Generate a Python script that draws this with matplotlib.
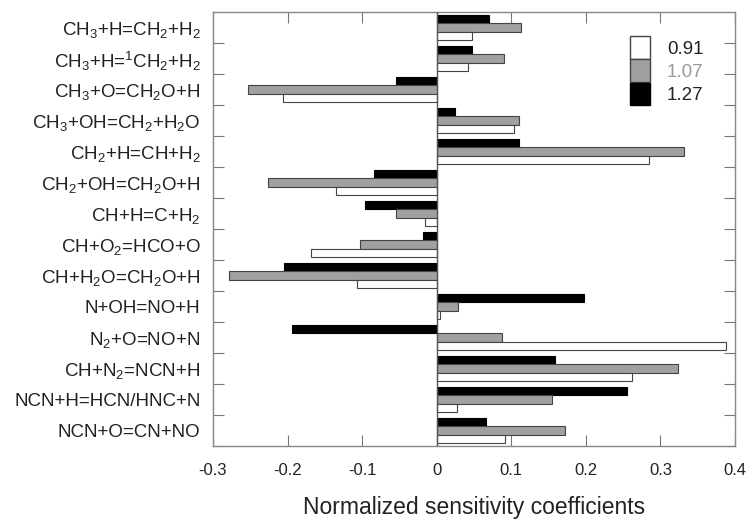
import matplotlib
matplotlib.use("Agg")
import matplotlib.pyplot as plt
import numpy as np
from matplotlib.patches import Patch

plt.rcParams['font.family'] = ['Liberation Sans', 'DejaVu Sans']
plt.rcParams['mathtext.fontset'] = 'custom'
plt.rcParams['mathtext.rm'] = 'Liberation Sans'
plt.rcParams['mathtext.it'] = 'Liberation Sans'

reactions = [
    r"CH$_3$+H=CH$_2$+H$_2$",
    r"CH$_3$+H=$^1$CH$_2$+H$_2$",
    r"CH$_3$+O=CH$_2$O+H",
    r"CH$_3$+OH=CH$_2$+H$_2$O",
    r"CH$_2$+H=CH+H$_2$",
    r"CH$_2$+OH=CH$_2$O+H",
    r"CH+H=C+H$_2$",
    r"CH+O$_2$=HCO+O",
    r"CH+H$_2$O=CH$_2$O+H",
    r"N+OH=NO+H",
    r"N$_2$+O=NO+N",
    r"CH+N$_2$=NCN+H",
    r"NCN+H=HCN/HNC+N",
    r"NCN+O=CN+NO",
]
series_labels = ["0.91", "1.07", "1.27"]
vals_091 = [0.047, 0.042, -0.206, 0.104, 0.284, -0.135, -0.016, -0.168, -0.107, 0.004, 0.388, 0.262, 0.027, 0.092]
vals_107 = [0.113, 0.090, -0.253, 0.110, 0.332, -0.226, -0.054, -0.103, -0.278, 0.028, 0.088, 0.324, 0.155, 0.172]
vals_127 = [0.070, 0.047, -0.054, 0.025, 0.110, -0.084, -0.096, -0.019, -0.205, 0.197, -0.194, 0.159, 0.255, 0.066]

fig = plt.figure(figsize=(7.47, 5.20), dpi=100)
ax = fig.add_axes([0.2851, 0.1423, 0.984 - 0.2851, 0.9769 - 0.1423])

y = np.arange(len(reactions))
h = 0.27
edge = '#444444'
ax.barh(y - h, vals_127, height=h, color='black', edgecolor='black', linewidth=0.8, zorder=3)
ax.barh(y, vals_107, height=h, color='#a0a0a0', edgecolor=edge, linewidth=0.8, zorder=3)
ax.barh(y + h, vals_091, height=h, color='white', edgecolor=edge, linewidth=0.8, zorder=3)
ax.axvline(0, color='#555555', linewidth=1.0, zorder=4)

ax.set_xlim(-0.3, 0.4)
ax.set_ylim(len(reactions) - 0.5, -0.5)
ax.set_xticks([-0.3, -0.2, -0.1, 0, 0.1, 0.2, 0.3, 0.4])
ax.set_xticklabels(["-0.3", "-0.2", "-0.1", "0", "0.1", "0.2", "0.3", "0.4"])
ax.set_yticks(y + 0.5, minor=False)
ax.set_yticklabels([])
ax.set_yticks(y, minor=True)
ax.set_yticklabels(reactions, minor=True)
ax.tick_params(axis='y', which='minor', length=0, pad=9, labelsize=13.5, labelcolor='#222222')
ax.tick_params(axis='y', which='major', direction='in', length=8, left=True, right=True, color='#777777')
ax.tick_params(axis='x', direction='in', length=8, top=True, bottom=True, color='#777777',
               labelsize=12, pad=12, labelcolor='#222222')
for s in ax.spines.values():
    s.set_color('#888888')
    s.set_linewidth(1.0)

ax.set_xlabel("Normalized sensitivity coefficients", fontsize=16.5, color='#222222', labelpad=13)

handles = [Patch(facecolor='white', edgecolor=edge),
           Patch(facecolor='#a0a0a0', edgecolor=edge),
           Patch(facecolor='black', edgecolor='black')]
leg = ax.legend(handles, series_labels, loc='upper left', bbox_to_anchor=(0.785, 0.962),
                frameon=False, fontsize=13.5, handlelength=1.05, handleheight=1.5,
                handletextpad=0.9, labelspacing=0.02, borderaxespad=0)
leg.get_texts()[0].set_color('#222222')
leg.get_texts()[1].set_color('#999999')
leg.get_texts()[2].set_color('#222222')

fig.savefig("out.png", dpi=100)
